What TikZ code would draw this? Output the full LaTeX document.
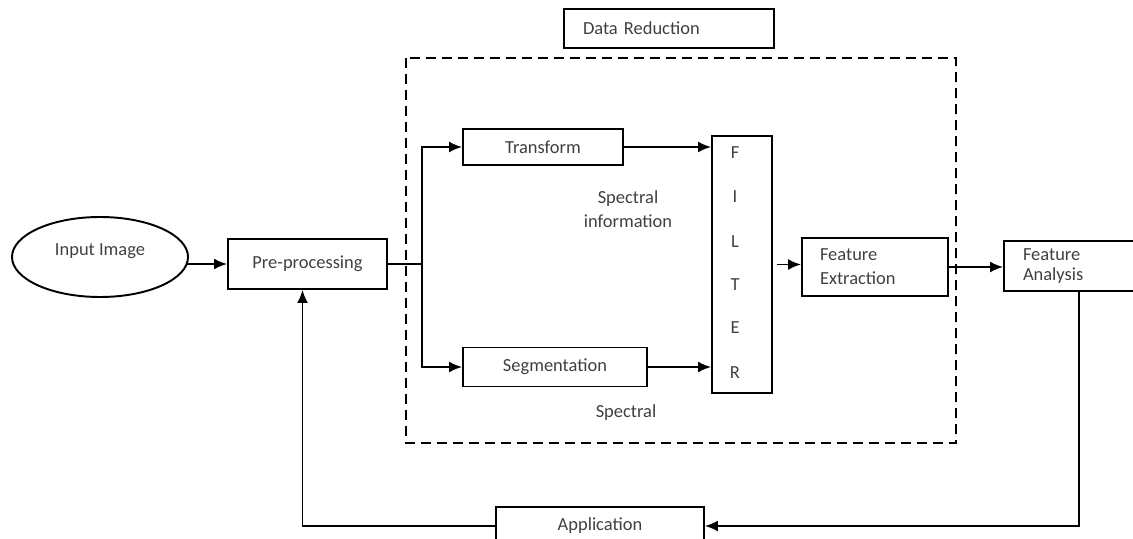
\documentclass[tikz,border=0pt]{standalone}
\usepackage{fontspec}
\setmainfont{Carlito}
\usetikzlibrary{shapes.geometric,arrows.meta}

\def\s{0.02}
\def\stelle#1#2{({(#1)*\s},{-(#2)*\s})}
\tikzset{
  kasten/.style={draw,line width=1.1pt,rectangle,text=black!75,inner sep=0pt},
  schrift/.style={text=black!75,inner sep=0pt}
}

\begin{document}
\begin{tikzpicture}[>={Latex[length=0.26cm,width=0.22cm]},line width=1.1pt,font=\fontsize{10.5}{13.6}\selectfont]
\useasboundingbox \stelle{0}{0} rectangle \stelle{1133}{539};
\node[kasten,minimum width=210*\s cm,minimum height=39*\s cm,text width=172*\s cm,align=left,inner xsep=19*\s cm] (dr) at \stelle{669}{28.5} {Data Reduction};
\draw[dash pattern=on 0.2cm off 0.12cm] \stelle{406}{58} rectangle \stelle{956}{443};
\node[kasten,ellipse,minimum width=176*\s cm,minimum height=80*\s cm] (input) at \stelle{100}{257} {\raisebox{0.3cm}{Input Image}};
\node[kasten,minimum width=159*\s cm,minimum height=50*\s cm] (pre) at \stelle{307.5}{264} {Pre-processing};
\node[kasten,minimum width=160*\s cm,minimum height=36*\s cm] (trafo) at \stelle{543}{147} {Transform};
\node[kasten,minimum width=184*\s cm,minimum height=39*\s cm] (seg) at \stelle{555}{367} {Segmentation};
\node[kasten,minimum width=60*\s cm,minimum height=257*\s cm] (filter) at \stelle{742}{264.5} {};
\foreach \b/\y in {F/154,I/198,L/243,T/286,E/329,R/374}{
	\node[schrift] (b\b) at \stelle{735}{\y} {\b\strut};
}
\node[kasten,minimum width=146*\s cm,minimum height=58*\s cm,text width=110*\s cm,align=left,inner xsep=18*\s cm] (fe) at \stelle{875}{267} {Feature\\Extraction};
\node[kasten,minimum width=150*\s cm,minimum height=50*\s cm,text width=112*\s cm,align=left,inner xsep=19*\s cm] (fa) at \stelle{1079}{266} {Feature\\[-2.3pt]Analysis};
\node[kasten,minimum width=208*\s cm,minimum height=38*\s cm] (app) at \stelle{600}{526} {Application};
\node[schrift,align=center] (spinfo) at \stelle{628}{209} {Spectral\\information};
\node[schrift] (sp) at \stelle{626}{413} {Spectral};
\path \stelle{422}{264} coordinate (gabel);
\draw[->] ([xshift=-0.04cm]input.east |- pre.west) -- (pre.west);
\draw (pre.east) -- (gabel);
\draw[->] (gabel) |- (trafo);
\draw[->] (gabel) |- (seg);
\draw[->] (trafo) -- (trafo -| filter.west);
\draw[->] (seg) -- (seg -| filter.west);
\draw[->] ([xshift=0.08cm]filter.east) -- (fe.west |- filter.east);
\draw[->] (fe) -- (fe -| fa.west);
\draw[->] (fa.south) |- (app.east);
\draw[->] (app.west) -| ([xshift=-0.1cm]pre.south);
\end{tikzpicture}
\end{document}
